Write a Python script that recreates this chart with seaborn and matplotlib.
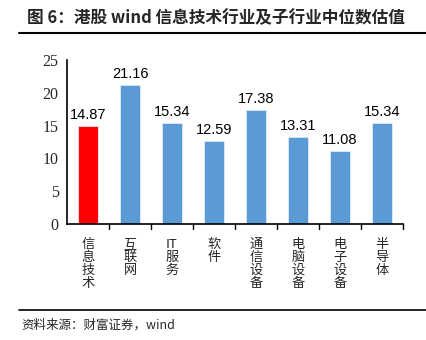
import matplotlib
matplotlib.use("Agg")
import matplotlib.pyplot as plt
from matplotlib.lines import Line2D
import seaborn as sns
import pandas as pd

categories = ["信息技术", "互联网", "IT服务", "软件", "通信设备", "电脑设备", "电子设备", "半导体"]
tick_labels = ["信\n息\n技\n术", "互\n联\n网", "IT\n服\n务", "软\n件", "通\n信\n设\n备", "电\n脑\n设\n备", "电\n子\n设\n备", "半\n导\n体"]
values = [14.87, 21.16, 15.34, 12.59, 17.38, 13.31, 11.08, 15.34]
groups = ["total", "sub", "sub", "sub", "sub", "sub", "sub", "sub"]

df = pd.DataFrame({"cat": categories, "val": values, "grp": groups})

sns.set_theme(style="white")
plt.rcParams["font.family"] = ["Noto Sans CJK SC", "DejaVu Sans"]

fig = plt.figure(figsize=(4.27, 3.4), dpi=100)
ax = fig.add_axes([0.157, 0.341, 0.787, 0.483])

sns.barplot(data=df, x="cat", y="val", hue="grp",
            palette={"total": "#FF0000", "sub": "#5B9BD5"},
            saturation=1, dodge=False, width=0.46, legend=False, ax=ax,
            edgecolor="#DDEBF7", linewidth=0.6)

for i, v in enumerate(values):
    ax.text(i, v + 0.6, f"{v:.2f}", ha="center", va="bottom",
            fontsize=10.5, family="Liberation Sans", color="black")

ax.set_xlim(-0.5, len(categories) - 0.5)
ax.set_ylim(0, 25)
ax.set_yticks([0, 5, 10, 15, 20, 25])
ax.set_yticklabels(["0", "5", "10", "15", "20", "25"],
                   family="Liberation Serif", fontsize=11.5)
ax.set_xticks(range(len(categories)))
ax.set_xticklabels(tick_labels, fontsize=9.5, linespacing=1.0, va="top")
ax.tick_params(axis="x", length=0, pad=10)
ax.tick_params(axis="y", length=4, width=1, direction="out", color="black", pad=2)

# boundary ticks between categories on the x axis
for xb in [i + 0.5 for i in range(len(categories))]:
    ax.plot([xb, xb], [0, -0.8], color="black", lw=1, clip_on=False)

ax.set_xlabel("")
ax.set_ylabel("")
for side in ["top", "right"]:
    ax.spines[side].set_visible(False)
for side in ["left", "bottom"]:
    ax.spines[side].set_color("black")
    ax.spines[side].set_linewidth(1.2)
ax.set_facecolor("white")
fig.patch.set_facecolor("white")

fig.text(0.063, 0.947, "图 6：港股 wind 信息技术行业及子行业中位数估值",
         fontsize=12, fontweight="bold", ha="left", va="center",
         family=["Noto Sans CJK SC", "DejaVu Sans"])
fig.add_artist(Line2D([0.045, 1.0], [0.902, 0.902], color="black", lw=1.5))
fig.add_artist(Line2D([0.045, 1.0], [0.088, 0.088], color="black", lw=1.2))
fig.text(0.05, 0.045, "资料来源：财富证券，wind", fontsize=9, style="italic",
         ha="left", va="center", family=["Noto Sans CJK SC", "DejaVu Sans"])

fig.savefig("out.png", dpi=100, facecolor="white")
